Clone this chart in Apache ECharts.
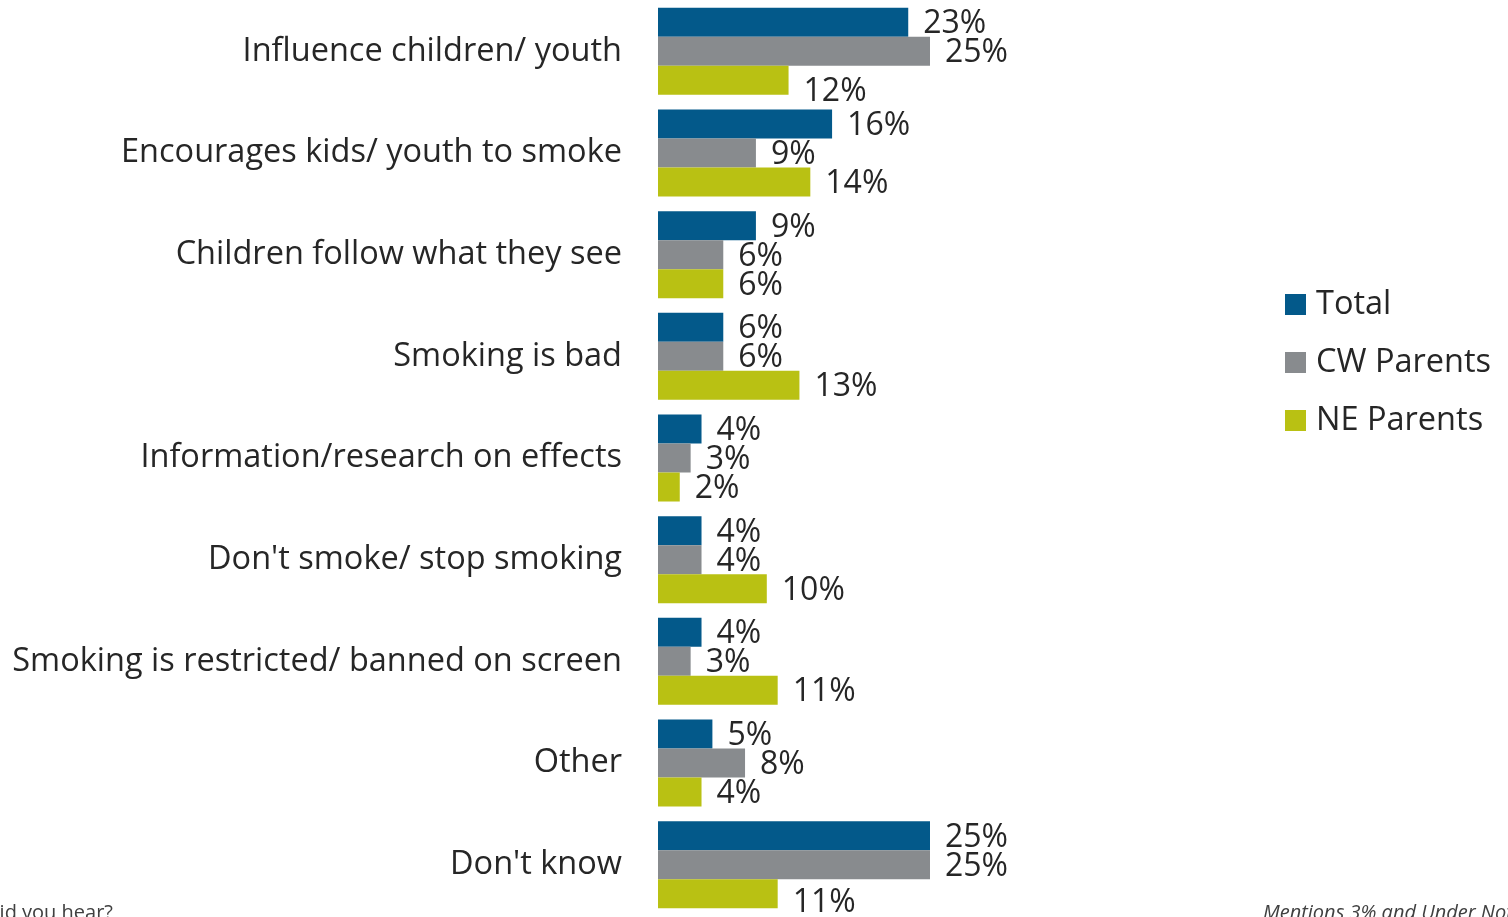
<!DOCTYPE html>
<html>
<head>
<meta charset="utf-8">
<script src="https://cdn.jsdelivr.net/npm/echarts@6/dist/echarts.min.js"></script>
<style>
html,body{margin:0;padding:0;background:#fff;}
#chart{width:1508px;height:917px;}
</style>
</head>
<body>
<div id="chart"></div>
<script>
const categories = [
  "Influence children/ youth",
  "Encourages kids/ youth to smoke",
  "Children follow what they see",
  "Smoking is bad",
  "Information/research on effects",
  "Don't smoke/ stop smoking",
  "Smoking is restricted/ banned on screen",
  "Other",
  "Don't know"
];
const seriesNames = ["Total", "CW Parents", "NE Parents"];
const totalValues = [23, 16, 9, 6, 4, 4, 4, 5, 25];
const cwValues    = [25, 9, 6, 6, 3, 4, 3, 8, 25];
const neValues    = [12, 14, 6, 13, 2, 10, 11, 4, 11];

const colors = ["#03598A", "#888B8E", "#B9C113"];
// label nudges (pixels) for labels displaced in the original
const neLabelNudge = {0: 12, 8: 9};

const FONT = "Open Sans";
const chart = echarts.init(document.getElementById('chart'));

function makeSeries(name, values, color, nudge) {
  return {
    name: name,
    type: 'bar',
    barGap: '0%',
    barCategoryGap: '14.4%',
    itemStyle: { color: color },
    data: values.map((v, i) => {
      const d = { value: v };
      if (nudge && nudge[i] !== undefined) {
        d.label = { offset: [0, nudge[i]] };
      }
      return d;
    }),
    label: {
      show: true,
      position: 'right',
      distance: 15,
      formatter: '{c}%',
      fontFamily: FONT,
      fontSize: 32,
      color: '#262626',
      offset: [0, 2]
    },
    animation: false
  };
}

chart.setOption({
  animation: false,
  textStyle: { fontFamily: FONT },
  grid: { left: 658, top: 0.5, width: 326.4, height: 915, containLabel: false },
  xAxis: {
    type: 'value', min: 0, max: 30,
    show: false
  },
  yAxis: {
    type: 'category',
    data: categories,
    inverse: true,
    axisLine: { show: false },
    axisTick: { show: false },
    axisLabel: { fontFamily: FONT, fontSize: 32.5, color: '#262626', margin: 36, padding: [5, 0, 0, 0] }
  },
  legend: {
    orient: 'vertical',
    left: 1280,
    top: 283,
    itemWidth: 21,
    itemHeight: 21,
    itemGap: 25,
    icon: 'rect',
    textStyle: { fontFamily: FONT, fontSize: 32.5, color: '#262626', lineHeight: 30, padding: [0, 0, 0, 5] },
    data: seriesNames
  },
  graphic: [
    { type: 'text', right: 1508 - 113, top: 903,
      style: { text: 'What did you hear?', fontFamily: FONT, fontSize: 20, fill: '#404040', textAlign: 'right' } },
    { type: 'text', left: 1263, top: 903,
      style: { text: 'Mentions 3% and Under Not Shown', fontFamily: FONT, fontSize: 20, fontStyle: 'italic', fill: '#404040' } }
  ],
  series: [
    makeSeries(seriesNames[0], totalValues, colors[0]),
    makeSeries(seriesNames[1], cwValues, colors[1]),
    makeSeries(seriesNames[2], neValues, colors[2], neLabelNudge)
  ]
});
</script>
</body>
</html>
